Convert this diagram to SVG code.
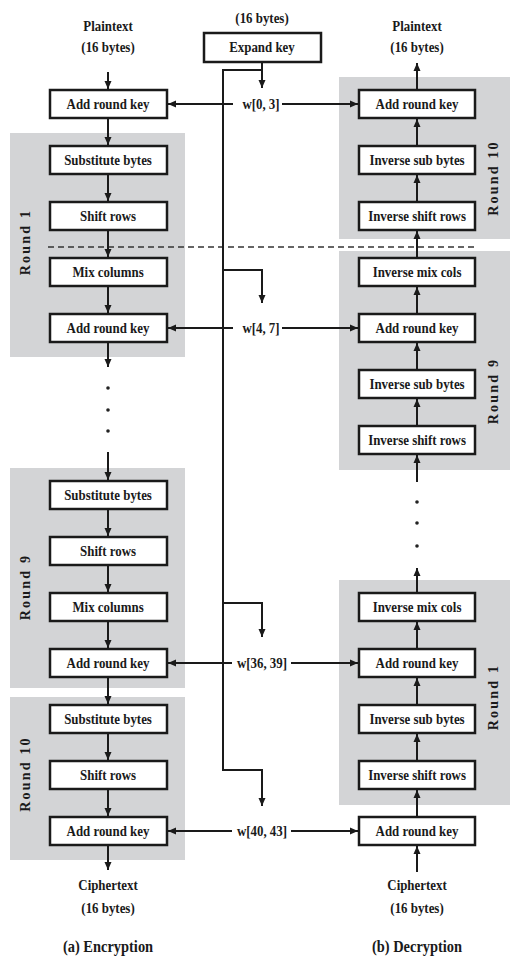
<svg xmlns="http://www.w3.org/2000/svg" width="510" height="962" viewBox="0 0 510 962">
<style>
.bg{fill:#d3d4d6}
.box{fill:#fff;stroke:#1a1a1a;stroke-width:2.5}
.t{font-family:"Liberation Serif","Times New Roman",serif;font-weight:bold;font-size:15px;fill:#1a1a1a;text-anchor:middle;transform-box:fill-box;transform-origin:center;transform:scaleX(0.86)}
.rl{font-family:"Liberation Serif","Times New Roman",serif;font-weight:bold;font-size:14px;fill:#1a1a1a;text-anchor:middle;letter-spacing:2.2px}
.cap{font-family:"Liberation Serif","Times New Roman",serif;font-weight:bold;font-size:17px;fill:#1a1a1a;text-anchor:middle;transform-box:fill-box;transform-origin:center;transform:scaleX(0.85)}
.ar{fill:none;stroke:#1a1a1a;stroke-width:2;marker-end:url(#ah)}
.dash{fill:none;stroke:#333;stroke-width:1.5;stroke-dasharray:6 4}
.dot{fill:#222}
</style>
<defs>
<marker id="ah" markerUnits="userSpaceOnUse" markerWidth="9" markerHeight="8" refX="8" refY="4" orient="auto">
<path d="M0,0.5 L8,4 L0,7.5 z" fill="#1a1a1a"/>
</marker>
</defs>
<rect width="510" height="962" fill="#fff"/>
<g id="rounds">
<rect class="bg" x="10" y="133" width="175" height="224"/>
<rect class="bg" x="10" y="468" width="175" height="220"/>
<rect class="bg" x="10" y="697" width="175" height="163"/>
<rect class="bg" x="339" y="77" width="171" height="162"/>
<rect class="bg" x="339" y="251" width="171" height="219"/>
<rect class="bg" x="339" y="580" width="171" height="225"/>
<text class="rl" transform="translate(30,242) rotate(-90)">Round 1</text>
<text class="rl" transform="translate(30,587) rotate(-90)">Round 9</text>
<text class="rl" transform="translate(30,774) rotate(-90)">Round 10</text>
<text class="rl" transform="translate(498,178) rotate(-90)">Round 10</text>
<text class="rl" transform="translate(498,391) rotate(-90)">Round 9</text>
<text class="rl" transform="translate(498,697) rotate(-90)">Round 1</text>
</g>
<g id="connectors">
<line class="dash" x1="48" y1="247" x2="475" y2="247"/>
<path class="ar" d="M108,72 V89"/>
<path class="ar" d="M108,118 V145"/>
<path class="ar" d="M108,174 V201"/>
<path class="ar" d="M108,230 V257"/>
<path class="ar" d="M108,286 V313"/>
<path class="ar" d="M108,342 V367"/>
<circle class="dot" cx="108" cy="388" r="1.8"/>
<circle class="dot" cx="108" cy="410" r="1.8"/>
<circle class="dot" cx="108" cy="431" r="1.8"/>
<path class="ar" d="M108,452 V480"/>
<path class="ar" d="M108,509 V536"/>
<path class="ar" d="M108,565 V592"/>
<path class="ar" d="M108,621 V648"/>
<path class="ar" d="M108,677 V704"/>
<path class="ar" d="M108,733 V760"/>
<path class="ar" d="M108,789 V816"/>
<path class="ar" d="M108,845 V870"/>
<path class="ar" d="M417,90 V63"/>
<path class="ar" d="M417,146 V119"/>
<path class="ar" d="M417,202 V175"/>
<path class="ar" d="M417,258 V231"/>
<path class="ar" d="M417,314 V287"/>
<path class="ar" d="M417,370 V343"/>
<path class="ar" d="M417,426 V399"/>
<path class="ar" d="M417,482 V455"/>
<circle class="dot" cx="417" cy="502" r="1.8"/>
<circle class="dot" cx="417" cy="523" r="1.8"/>
<circle class="dot" cx="417" cy="546" r="1.8"/>
<path class="ar" d="M417,593 V568"/>
<path class="ar" d="M417,649 V622"/>
<path class="ar" d="M417,705 V678"/>
<path class="ar" d="M417,761 V734"/>
<path class="ar" d="M417,817 V790"/>
<path class="ar" d="M417,872 V846"/>
<path class="ar" d="M262,62 V88"/>
<path class="ar" d="M262,70 H223 V770 H262 V806"/>
<path class="ar" d="M223,270 H262 V303"/>
<path class="ar" d="M223,603 H262 V637"/>
<path class="ar" d="M233,104 H168"/>
<path class="ar" d="M282,104 H358"/>
<path class="ar" d="M233,328 H168"/>
<path class="ar" d="M282,328 H358"/>
<path class="ar" d="M232,663 H168"/>
<path class="ar" d="M291,663 H358"/>
<path class="ar" d="M232,831 H168"/>
<path class="ar" d="M291,831 H358"/>
<text class="t" x="261" y="109">w[0, 3]</text>
<text class="t" x="261" y="333">w[4, 7]</text>
<text class="t" x="262" y="668">w[36, 39]</text>
<text class="t" x="262" y="836">w[40, 43]</text>
</g>
<g id="enc-plaintext"><text class="t" x="108" y="31">Plaintext</text><text class="t" x="108" y="52">(16 bytes)</text></g>
<g id="key-input"><text class="t" x="262" y="23">(16 bytes)</text></g>
<g id="expand-key"><rect class="box" x="204" y="33" width="117" height="29"/><text class="t" x="262" y="52">Expand key</text></g>
<g id="enc-ark0"><rect class="box" x="50" y="90" width="117" height="28"/><text class="t" x="108" y="109">Add round key</text></g>
<g id="enc-r1-sub"><rect class="box" x="50" y="146" width="117" height="28"/><text class="t" x="108" y="165">Substitute bytes</text></g>
<g id="enc-r1-shift"><rect class="box" x="50" y="202" width="117" height="28"/><text class="t" x="108" y="221">Shift rows</text></g>
<g id="enc-r1-mix"><rect class="box" x="50" y="258" width="117" height="28"/><text class="t" x="108" y="277">Mix columns</text></g>
<g id="enc-r1-ark"><rect class="box" x="50" y="314" width="117" height="28"/><text class="t" x="108" y="333">Add round key</text></g>
<g id="enc-r9-sub"><rect class="box" x="50" y="481" width="117" height="28"/><text class="t" x="108" y="500">Substitute bytes</text></g>
<g id="enc-r9-shift"><rect class="box" x="50" y="537" width="117" height="28"/><text class="t" x="108" y="556">Shift rows</text></g>
<g id="enc-r9-mix"><rect class="box" x="50" y="593" width="117" height="28"/><text class="t" x="108" y="612">Mix columns</text></g>
<g id="enc-r9-ark"><rect class="box" x="50" y="649" width="117" height="28"/><text class="t" x="108" y="668">Add round key</text></g>
<g id="enc-r10-sub"><rect class="box" x="50" y="705" width="117" height="28"/><text class="t" x="108" y="724">Substitute bytes</text></g>
<g id="enc-r10-shift"><rect class="box" x="50" y="761" width="117" height="28"/><text class="t" x="108" y="780">Shift rows</text></g>
<g id="enc-r10-ark"><rect class="box" x="50" y="817" width="117" height="28"/><text class="t" x="108" y="836">Add round key</text></g>
<g id="enc-ciphertext"><text class="t" x="108" y="890">Ciphertext</text><text class="t" x="108" y="913">(16 bytes)</text></g>
<g id="dec-plaintext"><text class="t" x="417" y="31">Plaintext</text><text class="t" x="417" y="52">(16 bytes)</text></g>
<g id="dec-r10-ark"><rect class="box" x="359" y="90" width="116" height="28"/><text class="t" x="417" y="109">Add round key</text></g>
<g id="dec-r10-isub"><rect class="box" x="359" y="146" width="116" height="28"/><text class="t" x="417" y="165">Inverse sub bytes</text></g>
<g id="dec-r10-ishift"><rect class="box" x="359" y="202" width="116" height="28"/><text class="t" x="417" y="221">Inverse shift rows</text></g>
<g id="dec-r9-imix"><rect class="box" x="359" y="258" width="116" height="28"/><text class="t" x="417" y="277">Inverse mix cols</text></g>
<g id="dec-r9-ark"><rect class="box" x="359" y="314" width="116" height="28"/><text class="t" x="417" y="333">Add round key</text></g>
<g id="dec-r9-isub"><rect class="box" x="359" y="370" width="116" height="28"/><text class="t" x="417" y="389">Inverse sub bytes</text></g>
<g id="dec-r9-ishift"><rect class="box" x="359" y="426" width="116" height="28"/><text class="t" x="417" y="445">Inverse shift rows</text></g>
<g id="dec-r1-imix"><rect class="box" x="359" y="593" width="116" height="28"/><text class="t" x="417" y="612">Inverse mix cols</text></g>
<g id="dec-r1-ark"><rect class="box" x="359" y="649" width="116" height="28"/><text class="t" x="417" y="668">Add round key</text></g>
<g id="dec-r1-isub"><rect class="box" x="359" y="705" width="116" height="28"/><text class="t" x="417" y="724">Inverse sub bytes</text></g>
<g id="dec-r1-ishift"><rect class="box" x="359" y="761" width="116" height="28"/><text class="t" x="417" y="780">Inverse shift rows</text></g>
<g id="dec-ark-final"><rect class="box" x="359" y="817" width="116" height="28"/><text class="t" x="417" y="836">Add round key</text></g>
<g id="dec-ciphertext"><text class="t" x="417" y="890">Ciphertext</text><text class="t" x="417" y="913">(16 bytes)</text></g>
<g id="captions"><text class="cap" x="108" y="952">(a) Encryption</text><text class="cap" x="417" y="952">(b) Decryption</text></g>
</svg>
